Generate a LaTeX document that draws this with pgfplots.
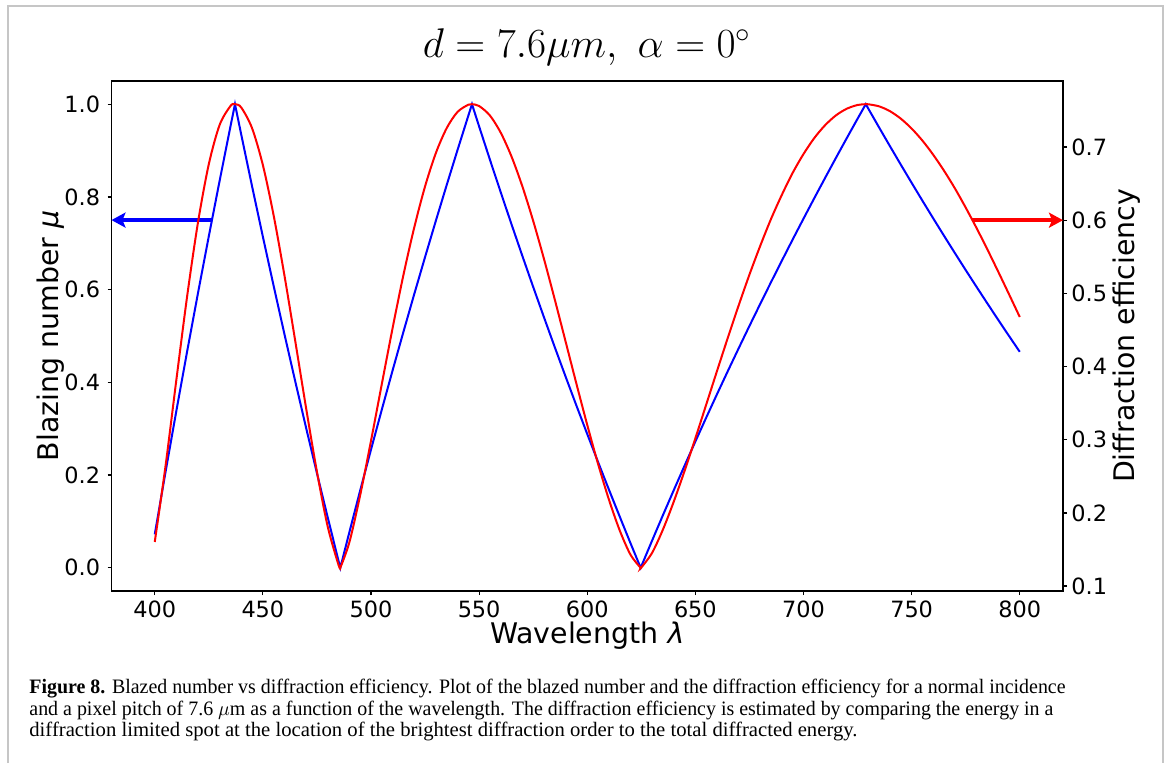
\documentclass[border=0pt]{standalone}
\usepackage[no-math]{fontspec}
\setmainfont{DejaVu Sans}
\newfontfamily\capfont{Liberation Serif}
\usepackage{pgfplots}
\usepackage{pgfplotstable}
\pgfplotsset{compat=1.18}
\usetikzlibrary{arrows.meta}

\pgfplotstableread{
lambda mu eta
400 0.0721 0.1603
405 0.2071 0.2644
410 0.3388 0.3820
415 0.4673 0.4965
420 0.5927 0.5971
425 0.7152 0.6766
430 0.8348 0.7302
435 0.9517 0.7560
437.1 1.0000 0.7585
440 0.9343 0.7540
445 0.8229 0.7257
450 0.7141 0.6753
455 0.6076 0.6062
460 0.5034 0.5240
465 0.4015 0.4343
470 0.3017 0.3430
475 0.2041 0.2563
480 0.1084 0.1811
485 0.0148 0.1287
485.8 0.0000 0.1250
490 0.0769 0.1599
495 0.1669 0.2243
500 0.2550 0.2985
505 0.3413 0.3761
510 0.4260 0.4527
515 0.5090 0.5252
520 0.5904 0.5901
525 0.6703 0.6462
530 0.7487 0.6918
535 0.8256 0.7258
540 0.9010 0.7479
545 0.9751 0.7578
546.7 1.0000 0.7585
550 0.9519 0.7560
555 0.8802 0.7430
560 0.8098 0.7195
565 0.7406 0.6868
570 0.6726 0.6461
575 0.6058 0.5990
580 0.5402 0.5469
585 0.4756 0.4914
590 0.4122 0.4340
595 0.3498 0.3764
600 0.2885 0.3202
605 0.2282 0.2670
610 0.1689 0.2184
615 0.1106 0.1762
620 0.0531 0.1429
624.7 0.0000 0.1250
625 0.0034 0.1253
630 0.0589 0.1455
635 0.1136 0.1773
640 0.1674 0.2154
645 0.2203 0.2574
650 0.2725 0.3020
655 0.3239 0.3479
660 0.3745 0.3939
665 0.4243 0.4393
670 0.4733 0.4834
675 0.5217 0.5256
680 0.5693 0.5650
685 0.6163 0.6018
690 0.6625 0.6347
695 0.7082 0.6647
700 0.7531 0.6904
705 0.7974 0.7123
710 0.8411 0.7298
715 0.8842 0.7432
720 0.9267 0.7523
725 0.9686 0.7574
728.8 1.0000 0.7585
730 0.9901 0.7584
735 0.9494 0.7555
740 0.9092 0.7489
745 0.8695 0.7387
750 0.8304 0.7252
755 0.7917 0.7087
760 0.7536 0.6893
765 0.7160 0.6675
770 0.6789 0.6435
775 0.6422 0.6172
780 0.6061 0.5894
785 0.5704 0.5602
790 0.5351 0.5299
795 0.5003 0.4990
800 0.4659 0.4677
}\datatable

\begin{document}
\begin{tikzpicture}
\path (-55.75pt,-86.5pt) rectangle (529.25pt,295.5pt);
\begin{axis}[
  at={(0pt,0pt)}, anchor=south west,
  scale only axis, width=475.75pt, height=255pt,
  clip=false,
  xmin=380, xmax=820, ymin=-0.05, ymax=1.05,
  xtick={400,450,500,550,600,650,700,750,800},
  ytick={0,0.2,0.4,0.6,0.8,1.0},
  minor tick num=0,
  xtick pos=bottom, ytick pos=left,
  tick align=outside, major tick length=2pt,
  tick style={black, line width=0.6pt},
  axis line style={black, line width=0.6pt},
  /pgf/number format/assume math mode=true,
  tick label style={font=\fontsize{11.2}{13}\selectfont},
  xticklabel style={anchor=north, inner sep=0pt, yshift=-2.5pt},
  yticklabel style={anchor=east, inner sep=0pt, xshift=-3.5pt,
    /pgf/number format/.cd, fixed, fixed zerofill, precision=1},
  xlabel={Wavelength {\itshape λ}},
  xlabel style={at={([yshift=-15.5pt]rel axis cs:0.5,0)}, anchor=north, inner sep=0pt,
    font=\fontsize{14.2}{17}\selectfont},
  ylabel={Blazing number {\itshape μ}},
  ylabel style={at={([xshift=-23.4pt]rel axis cs:0,0.5)}, anchor=south, inner sep=0pt,
    font=\fontsize{14.2}{17}\selectfont},
]
\addplot[blue, line width=1pt] table[x=lambda, y=mu]{\datatable};
\draw[blue, line width=2pt, -{Stealth[length=7pt, width=7.5pt, inset=1.5pt]}]
  (axis cs:426.5,0.75) -- (axis cs:380,0.75);
\end{axis}
\begin{axis}[
  at={(0pt,0pt)}, anchor=south west,
  scale only axis, width=475.75pt, height=255pt,
  clip=false,
  xmin=380, xmax=820, ymin=0.0933, ymax=0.7902,
  hide x axis,
  axis line style={draw=none},
  ytick={0.1,0.2,0.3,0.4,0.5,0.6,0.7},
  minor tick num=0,
  ytick pos=right,
  tick align=outside, major tick length=2pt,
  tick style={black, line width=0.6pt},
  /pgf/number format/assume math mode=true,
  tick label style={font=\fontsize{11.2}{13}\selectfont},
  yticklabel style={anchor=west, inner sep=0pt, xshift=2pt,
    /pgf/number format/.cd, fixed, fixed zerofill, precision=1},
  ylabel={Diffraction efficiency},
  ylabel style={at={([xshift=24.6pt]rel axis cs:1,0.5)}, anchor=north, inner sep=0pt,
    font=\fontsize{14.2}{17}\selectfont},
]
\addplot[red, line width=1pt, smooth, tension=0.5, restrict x to domain=399:485.9]
  table[x=lambda, y=eta]{\datatable};
\addplot[red, line width=1pt, smooth, tension=0.5, restrict x to domain=485.7:624.8]
  table[x=lambda, y=eta]{\datatable};
\addplot[red, line width=1pt, smooth, tension=0.5, restrict x to domain=624.6:801]
  table[x=lambda, y=eta]{\datatable};
\draw[red, line width=2pt, -{Stealth[length=7pt, width=7.5pt, inset=1.5pt]}]
  (axis cs:778,0.6) -- (axis cs:820,0.6);
\end{axis}
\node[anchor=base, inner sep=0pt] at (237.75pt,266.5pt)
  {\fontsize{21}{25}\selectfont $d = 7.6\mu m,\ \alpha = 0^\circ$};
\draw[gray!45, line width=1.2pt] (-51.75pt,-86pt) -- (-51.75pt,292.5pt) -- (525.75pt,292.5pt) -- (525.75pt,-86pt);
\node[anchor=base west, inner sep=0pt] at (-41.25pt,-51.15pt)
  {\resizebox{518pt}{\height}{\capfont\fontsize{10.25}{12}\selectfont\textbf{Figure 8.} Blazed number vs diffraction efficiency. Plot of the blazed number and the diffraction efficiency for a normal incidence}};
\node[anchor=base west, inner sep=0pt] at (-41.25pt,-62pt)
  {\resizebox{512pt}{\height}{\capfont\fontsize{10.25}{12}\selectfont and a pixel pitch of 7.6 $\mu$m as a function of the wavelength. The diffraction efficiency is estimated by comparing the energy in a}};
\node[anchor=base west, inner sep=0pt] at (-41.25pt,-72.85pt)
  {\resizebox{414pt}{\height}{\capfont\fontsize{10.25}{12}\selectfont diffraction limited spot at the location of the brightest diffraction order to the total diffracted energy.}};
\end{tikzpicture}
\end{document}
